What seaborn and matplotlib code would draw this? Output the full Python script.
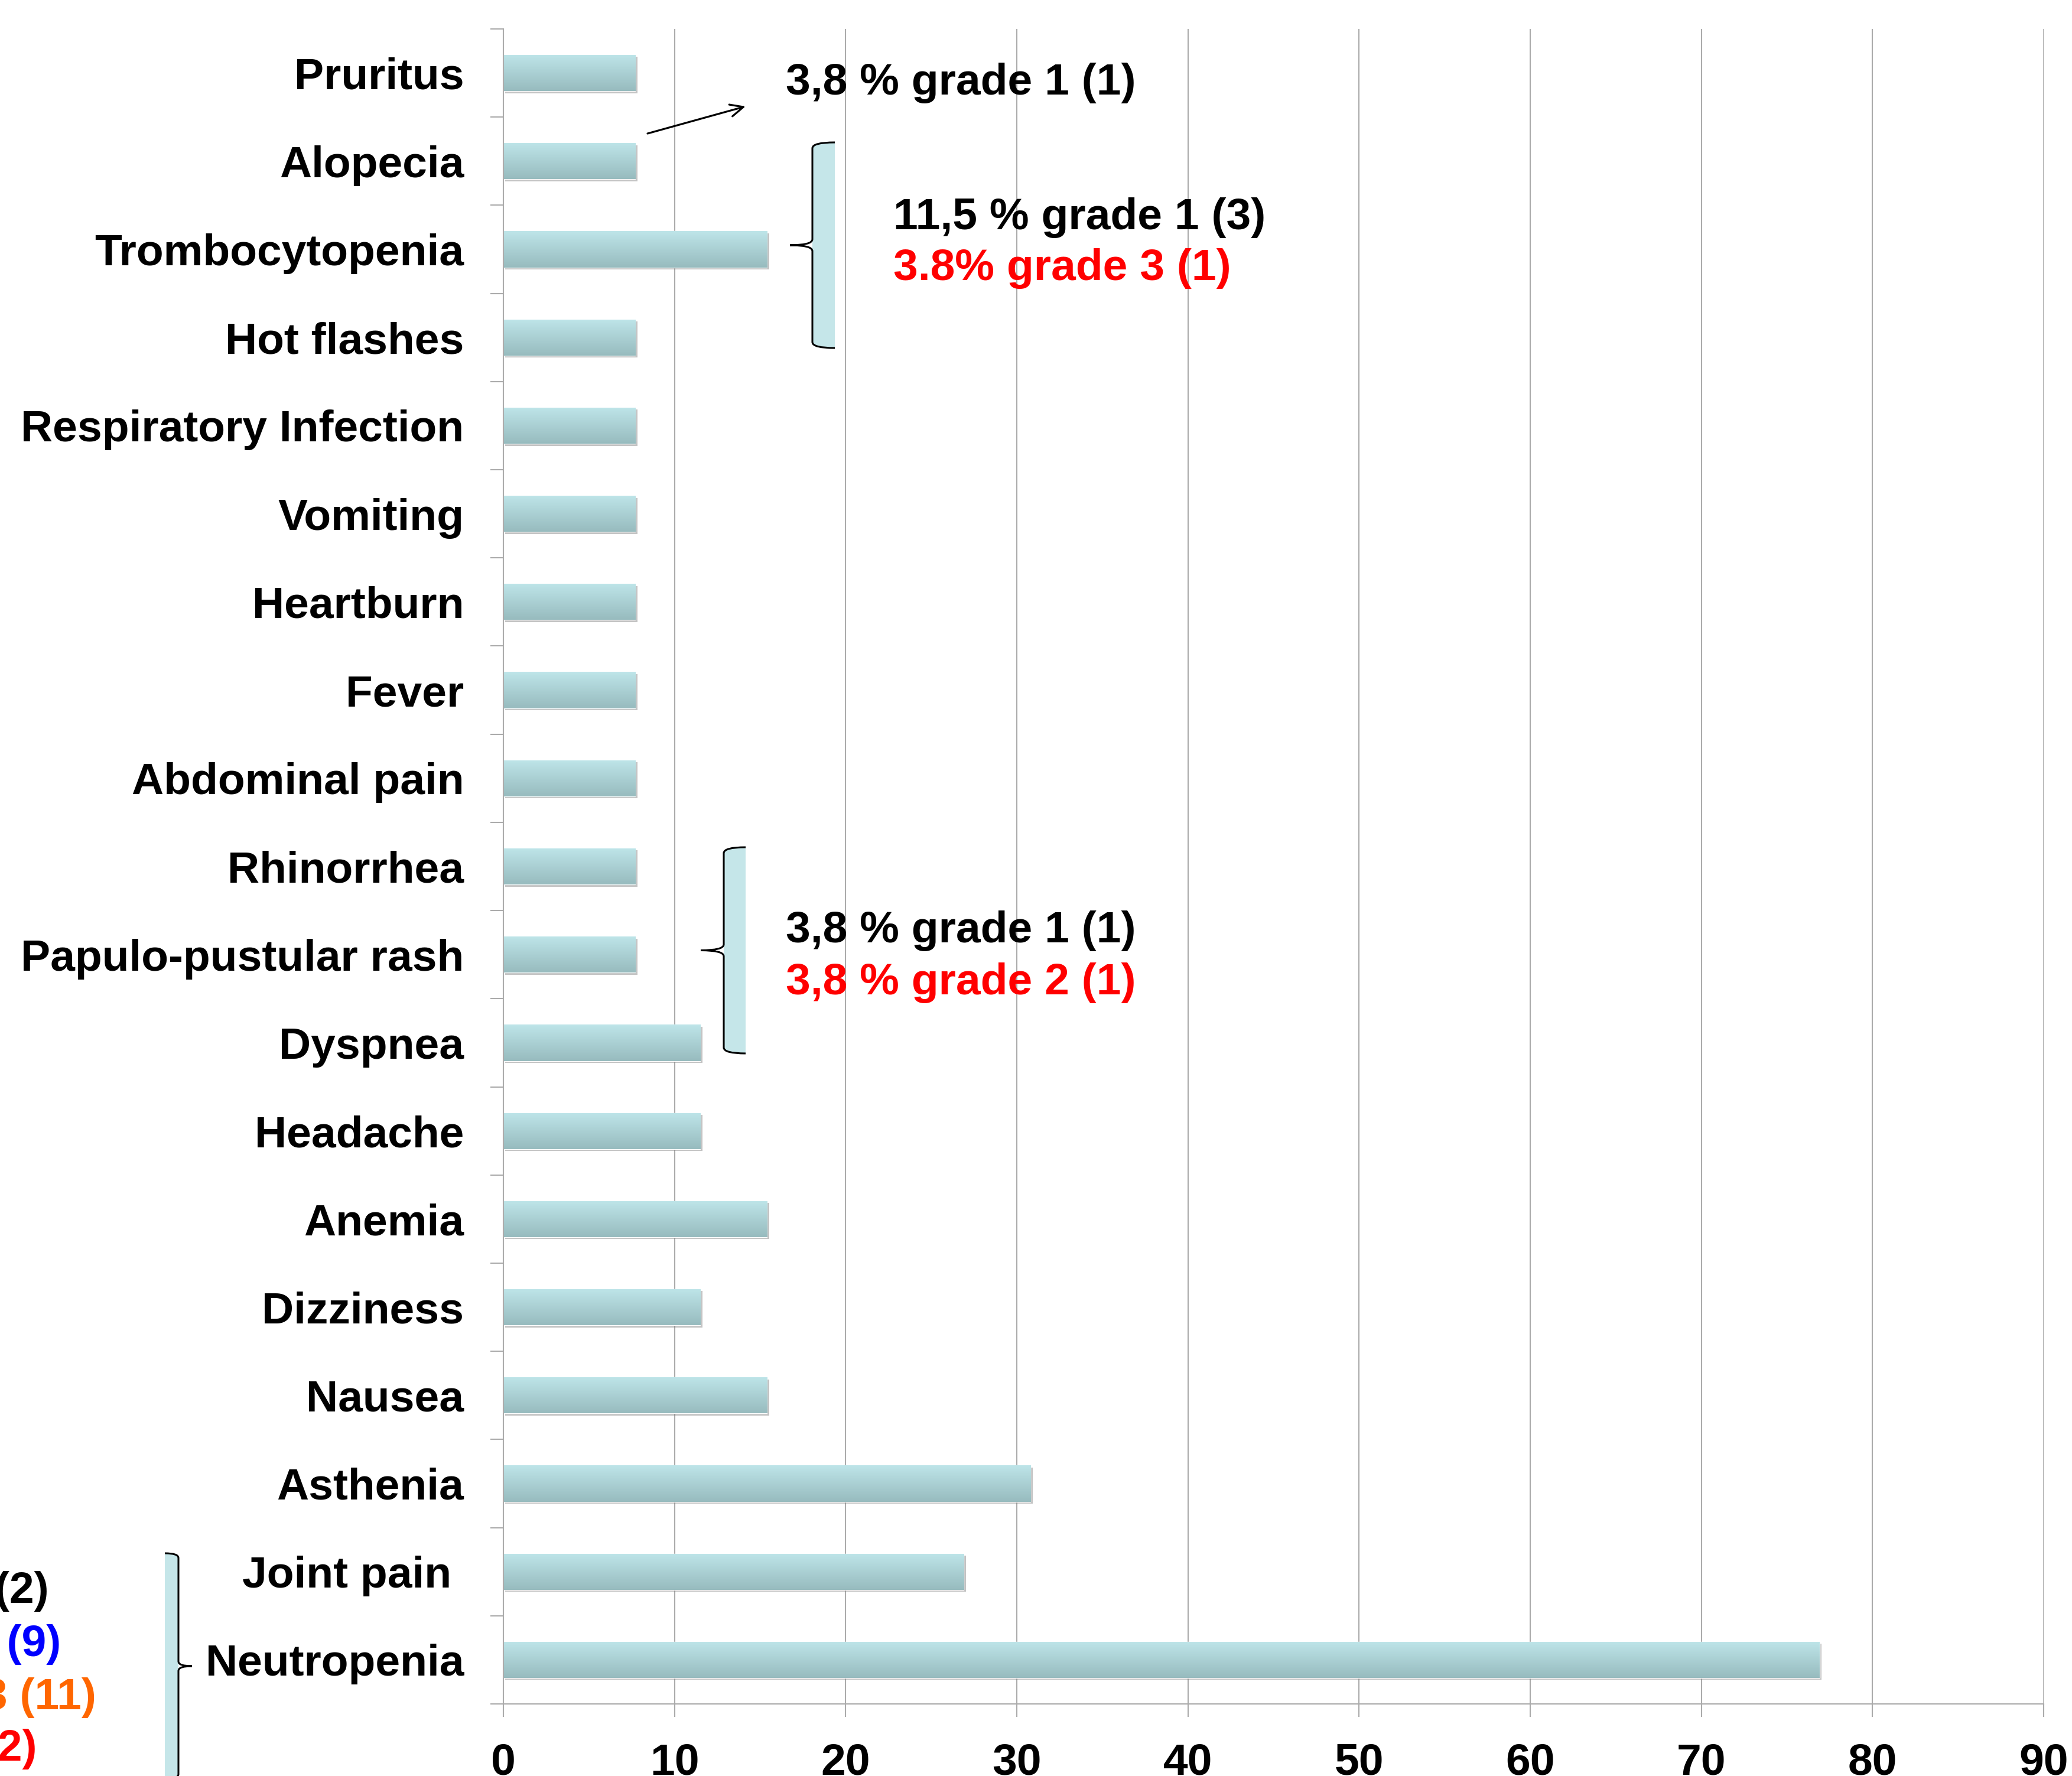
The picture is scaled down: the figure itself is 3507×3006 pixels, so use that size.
import numpy as np
import matplotlib
matplotlib.use("Agg")
import matplotlib.pyplot as plt
import matplotlib.patheffects as pe
import matplotlib.transforms as mtransforms
from matplotlib.path import Path
from matplotlib.patches import PathPatch, FancyArrowPatch
import seaborn as sns

# ---------------- data ----------------
categories = ["Pruritus", "Alopecia", "Trombocytopenia", "Hot flashes",
              "Respiratory Infection", "Vomiting", "Heartburn", "Fever",
              "Abdominal pain", "Rhinorrhea", "Papulo-pustular rash", "Dyspnea",
              "Headache", "Anemia", "Dizziness", "Nausea", "Asthenia",
              "Joint pain ", "Neutropenia"]
values = [7.7, 7.7, 15.4, 7.7, 7.7, 7.7, 7.7, 7.7, 7.7, 7.7, 7.7, 11.5,
          11.5, 15.4, 11.5, 15.4, 30.8, 26.9, 76.9]
x_ticks = [0, 10, 20, 30, 40, 50, 60, 70, 80, 90]

note_pruritus = "3,8 % grade 1 (1)"
note_trombo = ["11,5 % grade 1 (3)", "3.8% grade 3 (1)"]
note_rash = ["3,8 % grade 1 (1)", "3,8 % grade 2 (1)"]
note_neutro = ["7,7 % grade 1 (2)", "34,6 % grade 2 (9)",
               "42,3 % grade 3 (11)", "7,7 % grade 4 (2)"]

# ---------------- style ----------------
sns.set_theme(style="white")
plt.rcParams["font.family"] = ["Liberation Sans", "DejaVu Sans"]
plt.rcParams["font.weight"] = "bold"

W, H = 3507, 3006
FS = 54
GRAY = "#ABABAB"
BRACE_FILL = "#C5E6E9"

fig = plt.figure(figsize=(W / 100, H / 100), dpi=100)
fig.patch.set_facecolor("white")
ax = fig.add_axes([852 / W, 1 - 2884 / H, (3459 - 852) / W, (2884 - 49) / H])

sns.barplot(x=values, y=categories, orient="h", width=0.41,
            color="#B0D6DA", saturation=1, ax=ax, zorder=2)

ax.set_axisbelow(True)
ax.xaxis.grid(True, color=GRAY, lw=1.5)
ax.yaxis.grid(False)

# gradient + shadow on bars
top_c = np.array([190, 229, 233]) / 255
bot_c = np.array([151, 187, 190]) / 255
t = np.linspace(0, 1, 256)[:, None]
grad = (top_c[None, :] * (1 - t) + bot_c[None, :] * t)[:, None, :]
for p in list(ax.patches):
    p.set_path_effects([pe.SimplePatchShadow(offset=(2.5, -2.5),
                                             shadow_rgbFace="#7a7a7a", alpha=0.45),
                        pe.Normal()])
    x0, w = p.get_x(), p.get_width()
    y, h = p.get_y(), p.get_height()
    im = ax.imshow(grad, extent=[x0, x0 + w, y + h, y], origin="upper",
                   aspect="auto", zorder=2.5, interpolation="bilinear")
    im.set_clip_path(p)

ax.set_xlim(0, 90)
ax.set_ylim(len(categories) - 0.5, -0.5)
ax.set_xticks(x_ticks)
ax.set_xticklabels([str(v) for v in x_ticks], fontsize=FS, fontweight="bold")
ax.set_yticks(range(len(categories)))
ax.set_yticklabels(categories, fontsize=FS, fontweight="bold")
ax.set_yticks(np.arange(-0.5, len(categories), 1.0), minor=True)
ax.tick_params(axis="y", which="major", length=0, pad=48, labelcolor="black")
ax.tick_params(axis="y", which="minor", length=16, width=1.5, color=GRAY,
               direction="out", left=True)
ax.tick_params(axis="x", which="major", length=16, width=1.5, color=GRAY,
               direction="out", pad=31, labelcolor="black", bottom=True)
ax.set_xlabel("")
ax.set_ylabel("")
for s in ["top", "right"]:
    ax.spines[s].set_visible(False)
for s in ["left", "bottom"]:
    ax.spines[s].set_color(GRAY)
    ax.spines[s].set_linewidth(1.5)

# ---------------- annotations (figure pixel coords, y from top) ----------------
tpx = mtransforms.Affine2D().scale(1 / W, -1 / H).translate(0, 1) + fig.transFigure


def brace(xl, xf, xt, y0, y1, c=10):
    ym = (y0 + y1) / 2
    # fill
    fv = [(xf, y0), (xl, y0), (xl, y0 + c), (xl, y1 - c), (xl, y1), (xf, y1), (xf, y0)]
    fc = [Path.MOVETO, Path.CURVE3, Path.CURVE3, Path.LINETO, Path.CURVE3,
          Path.CURVE3, Path.CLOSEPOLY]
    fig.add_artist(PathPatch(Path(fv, fc), transform=tpx, facecolor=BRACE_FILL,
                             edgecolor="none", zorder=3))
    lv = [(xf, y0), (xl, y0), (xl, y0 + c),
          (xl, ym - c), (xl, ym), (xt, ym),
          (xl, ym), (xl, ym + c),
          (xl, y1 - c), (xl, y1), (xf, y1)]
    lc = [Path.MOVETO, Path.CURVE3, Path.CURVE3,
          Path.LINETO, Path.CURVE3, Path.CURVE3,
          Path.CURVE3, Path.CURVE3,
          Path.LINETO, Path.CURVE3, Path.CURVE3]
    fig.add_artist(PathPatch(Path(lv, lc), transform=tpx, facecolor="none",
                             edgecolor="black", lw=2.2, zorder=4))


def txt(x, y, s, color="black", ha="left"):
    fig.text(x, y, s, transform=tpx, ha=ha, va="baseline", fontsize=FS,
             fontweight="bold", color=color, zorder=5)


# Pruritus / Alopecia note with arrow
txt(1330, 160, note_pruritus)
fig.add_artist(FancyArrowPatch(posA=(1096, 226), posB=(1262, 180), transform=tpx,
                               arrowstyle="->,head_length=0.8,head_width=0.37",
                               mutation_scale=20, lw=2.3, color="black",
                               shrinkA=0, shrinkB=0, zorder=5))

# Trombocytopenia brace
brace(1375, 1413, 1337, 241, 589)
txt(1512, 388, note_trombo[0], "black")
txt(1512, 474, note_trombo[1], "#FF0000")

# Rash brace
brace(1225, 1262, 1186, 1434, 1783)
txt(1330, 1595, note_rash[0], "black")
txt(1330, 1683, note_rash[1], "#FF0000")

# Neutropenia brace (mostly outside the figure on the left)
brace(302, 279, 325, 2629, 3011, c=8)
neutro_colors = ["black", "#0000FF", "#FF6600", "#FF0000"]
neutro_right = [83, 103, 163, 62]
neutro_base = [2713, 2803, 2893, 2980]
for s, c, xr, yb in zip(note_neutro, neutro_colors, neutro_right, neutro_base):
    txt(xr, yb, s, c, ha="right")

fig.savefig("out.png", dpi=100, facecolor="white")
